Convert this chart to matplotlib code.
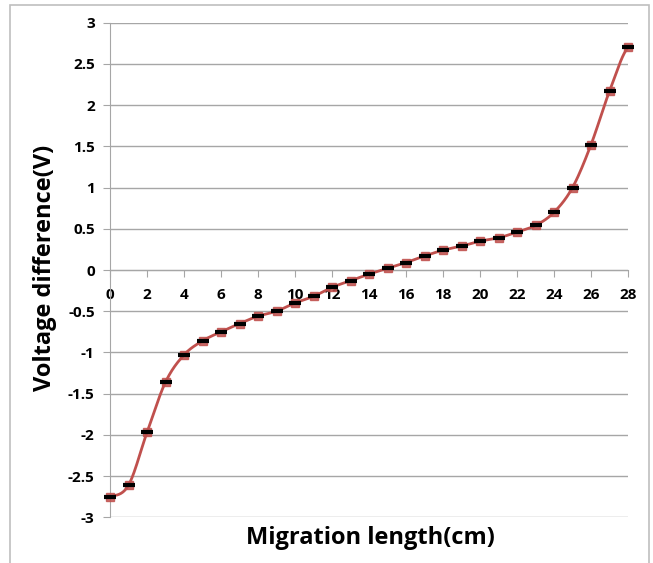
import numpy as np
import matplotlib
matplotlib.use("Agg")
import matplotlib.pyplot as plt
from matplotlib.patches import Rectangle

# ---- data ----
migration_length = [0, 1, 2, 3, 4, 5, 6, 7, 8, 9, 10, 11, 12, 13, 14,
                    15, 16, 17, 18, 19, 20, 21, 22, 23, 24, 25, 26, 27, 28]
voltage_diff = [-2.75, -2.61, -1.97, -1.36, -1.03, -0.86, -0.75, -0.65, -0.56,
                -0.50, -0.40, -0.32, -0.21, -0.13, -0.05, 0.02, 0.09, 0.17,
                0.24, 0.29, 0.35, 0.39, 0.46, 0.54, 0.70, 1.00, 1.52, 2.17, 2.70]
x_ticks = list(range(0, 29, 2))
y_ticks = [-3, -2.5, -2, -1.5, -1, -0.5, 0, 0.5, 1, 1.5, 2, 2.5, 3]
y_tick_labels = ['-3', '-2.5', '-2', '-1.5', '-1', '-0.5', '0', '0.5', '1', '1.5', '2', '2.5', '3']
x_label = "Migration length(cm)"
y_label = "Voltage difference(V)"

FONT = ['Open Sans', 'DejaVu Sans']
plt.rcParams['font.family'] = FONT
plt.rcParams['font.weight'] = 'bold'


def catmull_rom(xs, ys, n=20):
    xs = np.asarray(xs, float)
    ys = np.asarray(ys, float)
    px = np.concatenate([[2 * xs[0] - xs[1]], xs, [2 * xs[-1] - xs[-2]]])
    py = np.concatenate([[ys[0]], ys, [ys[-1]]])
    ox, oy = [], []
    t = np.linspace(0, 1, n, endpoint=False)
    for i in range(1, len(px) - 2):
        p0x, p1x, p2x, p3x = px[i - 1:i + 3]
        p0y, p1y, p2y, p3y = py[i - 1:i + 3]
        for (p0, p1, p2, p3, out) in ((p0x, p1x, p2x, p3x, ox), (p0y, p1y, p2y, p3y, oy)):
            out.extend(0.5 * ((2 * p1) + (-p0 + p2) * t +
                              (2 * p0 - 5 * p1 + 4 * p2 - p3) * t ** 2 +
                              (-p0 + 3 * p1 - 3 * p2 + p3) * t ** 3))
    ox.append(xs[-1]); oy.append(ys[-1])
    return np.array(ox), np.array(oy)


fig = plt.figure(figsize=(6.53, 5.63), dpi=100)
fig.patches.append(Rectangle((10 / 653, -0.02), 639 / 653, 1.02 - 5 / 563,
                             transform=fig.transFigure, fill=False,
                             edgecolor='#BFBFBF', linewidth=1.2))

ax = fig.add_axes([110 / 653, 1 - 517.3 / 563, 518 / 653, (517.3 - 22.7) / 563])
ax.set_xlim(0, 28)
ax.set_ylim(-3, 3)

red = '#C0504D'
sx, sy = catmull_rom(migration_length, voltage_diff)
ax.plot(sx, sy, color=red, lw=2, zorder=3, clip_on=False)
ax.plot(migration_length, voltage_diff, ls='none', marker='s', ms=5.5,
        mfc=red, mec=red, alpha=0.85, zorder=4, clip_on=False)
ax.plot(migration_length, voltage_diff, ls='none', marker='_', ms=8,
        mew=3, mec='black', zorder=5, clip_on=False)

ax.set_yticks(y_ticks)
ax.set_yticklabels(y_tick_labels, fontweight='bold')
ax.set_xticks(x_ticks)
ax.set_xticklabels([str(v) for v in x_ticks], fontweight='bold')
ax.yaxis.grid(True, color='#A6A6A6', lw=1)
ax.set_axisbelow(True)

for s in ['top', 'right']:
    ax.spines[s].set_visible(False)
ax.spines['left'].set_color('#A6A6A6')
ax.spines['bottom'].set_position(('data', 0))
ax.spines['bottom'].set_color('#A6A6A6')

ax.tick_params(axis='y', direction='out', length=5, color='#A6A6A6',
               labelsize=11, pad=6)
ax.tick_params(axis='x', direction='out', length=5, color='#A6A6A6',
               labelsize=11, pad=8)

fig.text(370 / 653, 1 - 538 / 563, x_label, ha='center', va='center',
         fontsize=17, fontweight='bold')
fig.text(45 / 653, 1 - 268 / 563, y_label, ha='center', va='center',
         rotation=90, fontsize=17, fontweight='bold')

fig.savefig('out.png', dpi=100)
